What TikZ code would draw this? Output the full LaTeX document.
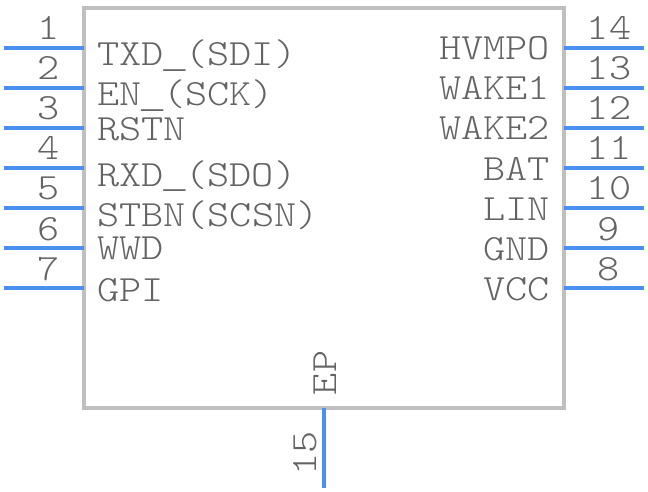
\documentclass[tikz,border=0pt]{standalone}
\usepackage{fontspec}
\newfontfamily\pinfont[FakeStretch=1.14]{Latin Modern Mono Light}
\newfontfamily\usfont{Liberation Mono}
\newcommand{\lowus}{\makebox[22.1pt][c]{\raisebox{-1.5pt}[0pt][0pt]{\fontsize{37}{37}\usfont\_}}}
\definecolor{pinblue}{HTML}{4A90F0}
\definecolor{boxgrey}{HTML}{BFBFBF}
\definecolor{txtgrey}{HTML}{636363}
\tikzset{
  chipbox/.style={draw=boxgrey,line width=4pt,fill=white,minimum width=480pt,minimum height=400pt,inner sep=0pt,outer sep=0pt,anchor=north west},
  pinline/.style={draw=pinblue,line width=4pt},
  lbl/.style={text=txtgrey,font=\fontsize{37}{37}\pinfont,inner sep=0pt,outer sep=0pt},
  lleft/.style={lbl,anchor=base west},
  lright/.style={lbl,anchor=base east},
  lnum/.style={lbl,anchor=base}
}
\begin{document}
\begin{tikzpicture}[x=1pt,y=-1pt]
\useasboundingbox (0,0) rectangle (648,492);
\node[chipbox] (chip) at (84,8) {};
% left pins
\foreach \n/\y/\t/\by in {1/48/{TXD\lowus(SDI)}/66,2/88/{EN\lowus(SCK)}/106,3/128/{RSTN}/141,4/168/{RXD\lowus(SDO)}/186,5/208/{STBN(SCSN)}/226,6/248/{WWD}/259,7/288/{GPI}/301}{
  \coordinate (l\n) at (4,\y);
  \draw[pinline] (l\n) -- (l\n -| chip.west);
  \node[lnum] (ln\n) at (49,\y-8) {\n};
  \node[lleft] (lt\n) at (97,\by) {\t};
}
% right pins
\foreach \n/\y/\t/\by in {14/48/{HVMPO}/60,13/88/{WAKE1}/100,12/128/{WAKE2}/140,11/168/{BAT}/180,10/208/{LIN}/220,9/248/{GND}/260,8/288/{VCC}/300}{
  \coordinate (r\n) at (644,\y);
  \draw[pinline] (r\n) -- (r\n -| chip.east);
  \node[lnum] (rn\n) at (609,\y-8) {\n};
  \node[lright] (rt\n) at (550,\by) {\t};
}
% bottom pin
\coordinate (b15) at (324,488);
\draw[pinline] (b15) -- (b15 |- chip.south);
\node[lbl,rotate=90,anchor=base] (bn) at (316,453) {15};
\node[lbl,rotate=90,anchor=base west] (ep) at (336,395) {EP};
\end{tikzpicture}
\end{document}
